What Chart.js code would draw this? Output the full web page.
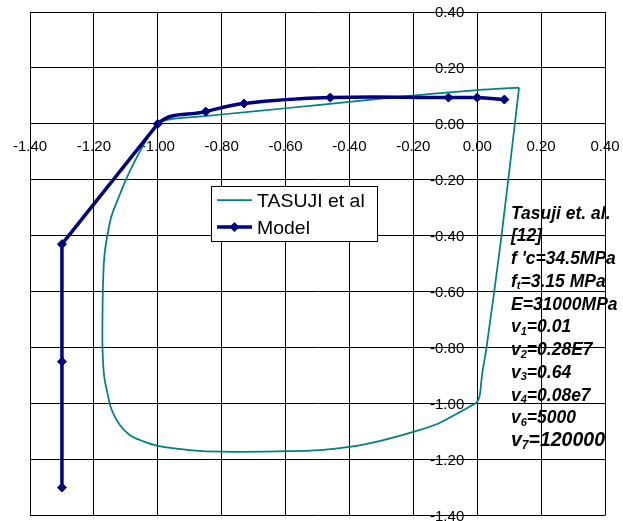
<!DOCTYPE html>
<html>
<head>
<meta charset="utf-8">
<script src="https://cdn.jsdelivr.net/npm/chart.js@4.4.0/dist/chart.umd.min.js"></script>
<style>
  html, body { margin: 0; padding: 0; background: #fff; }
  canvas { display: block; }
</style>
</head>
<body>
<canvas id="chart" width="623" height="521"></canvas>
<script>
// Tick values shared by both axes
const tickValues = [-1.4, -1.2, -1.0, -0.8, -0.6, -0.4, -0.2, 0.0, 0.2, 0.4];

// TASUJI et al. measured loop (starts and ends at the upper-right corner)
const tasujiX = [0.131, 0.000, -0.270, -0.500, -0.700, -0.870, -0.940, -0.975, -1.000,
  -1.035, -1.075, -1.100, -1.125, -1.145, -1.158, -1.167, -1.171, -1.173, -1.173,
  -1.168, -1.158, -1.145, -1.120, -1.087, -1.045, -1.000, -0.900, -0.800, -0.600,
  -0.490, -0.400, -0.300, -0.200, -0.120, -0.054, -0.015, 0.000, 0.008, 0.012,
  0.016, 0.029, 0.076, 0.131];
const tasujiY = [0.130, 0.121, 0.094, 0.067, 0.045, 0.026, 0.020, 0.013, 0.002,
  -0.056, -0.140, -0.200, -0.270, -0.330, -0.400, -0.470, -0.560, -0.680, -0.800,
  -0.900, -0.960, -1.020, -1.075, -1.113, -1.135, -1.151, -1.166, -1.172, -1.170,
  -1.166, -1.155, -1.132, -1.101, -1.070, -1.030, -1.005, -0.993, -0.970, -0.930,
  -0.890, -0.800, -0.400, 0.130];

// Model prediction
const modelX = [-1.30, -1.30, -1.30, -1.00, -0.85, -0.73, -0.46, -0.09, 0.00, 0.085];
const modelY = [-1.30, -0.85, -0.43, 0.00, 0.044, 0.073, 0.094, 0.094, 0.094, 0.087];

const seriesNames = ['TASUJI et al', 'Model'];

// Parameter note: [text, subscript, text after subscript]
const noteLines = [
  ['Tasuji et. al.'],
  ['[12]'],
  ["f 'c=34.5MPa"],
  ['f', 't', '=3.15 MPa'],
  ['E=31000MPa'],
  ['v', '1', '=0.01'],
  ['v', '2', '=0.28E7'],
  ['v', '3', '=0.64'],
  ['v', '4', '=0.08e7'],
  ['v', '6', '=5000'],
  ['v', '7', '=120000']
];

const TEAL = '#008080';
const NAVY = '#000080';
const FONT = "'Liberation Sans', Arial, Helvetica, sans-serif";
const TICK_FONT = '15px ' + FONT;

const toPoints = (xs, ys) => xs.map((x, i) => ({ x: x, y: ys[i] }));
const tasujiPts = toPoints(tasujiX, tasujiY);
const modelPts = toPoints(modelX, modelY);

const fmt = v => (Math.abs(v) < 1e-9 ? 0 : v).toFixed(2);
const noPad = s => { s.paddingLeft = 0; s.paddingRight = 0; s.paddingTop = 0; s.paddingBottom = 0; };

// Value labels of the vertical axis, set just left of the axis line at x = 0
const yAxisLabels = {
  id: 'yAxisLabels',
  afterDraw(chart) {
    const ctx = chart.ctx;
    const xs = chart.scales.x, ys = chart.scales.y;
    const axisX = xs.getPixelForValue(0);
    ctx.save();
    ctx.font = TICK_FONT;
    ctx.fillStyle = '#000';
    ctx.textAlign = 'right';
    ctx.textBaseline = 'middle';
    ys.ticks.forEach(t => {
      ctx.fillText(fmt(t.value), axisX - 13, ys.getPixelForValue(t.value) + 1);
    });
    ctx.restore();
  }
};

// Boxed legend and parameter note drawn on top of the plot
const overlay = {
  id: 'overlay',
  afterDraw(chart) {
    const ctx = chart.ctx;
    const a = chart.chartArea;
    ctx.save();

    // legend box
    const bx = a.left + 181, by = a.top + 174, bw = 166, bh = 55;
    ctx.fillStyle = '#fff';
    ctx.fillRect(bx, by, bw, bh);
    ctx.strokeStyle = '#000';
    ctx.lineWidth = 1;
    ctx.strokeRect(bx + 0.5, by + 0.5, bw, bh);

    const ds = chart.data.datasets;
    const rows = [
      { y: by + 14, color: ds[2].borderColor, width: ds[2].borderWidth, marker: false },
      { y: by + 41, color: ds[0].borderColor, width: ds[0].borderWidth, marker: true }
    ];
    rows.forEach((r, i) => {
      ctx.strokeStyle = r.color;
      ctx.lineWidth = r.width;
      ctx.beginPath();
      ctx.moveTo(bx + 6, r.y);
      ctx.lineTo(bx + 41, r.y);
      ctx.stroke();
      if (r.marker) {
        const cx = bx + 23.5, s = 5;
        ctx.fillStyle = r.color;
        ctx.beginPath();
        ctx.moveTo(cx, r.y - s); ctx.lineTo(cx + s, r.y); ctx.lineTo(cx, r.y + s); ctx.lineTo(cx - s, r.y);
        ctx.closePath();
        ctx.fill();
      }
      ctx.save();
      ctx.translate(bx + 46, r.y + 6.5);
      ctx.scale(1.1, 1);
      ctx.fillStyle = '#000';
      ctx.font = '17.7px ' + FONT;
      ctx.textBaseline = 'alphabetic';
      ctx.textAlign = 'left';
      ctx.fillText(seriesNames[i], 0, 0);
      ctx.restore();
    });

    // parameter note
    const nx = a.left + 481;
    let ny = a.top + 206.5;
    ctx.fillStyle = '#000';
    ctx.textBaseline = 'alphabetic';
    ctx.textAlign = 'left';
    noteLines.forEach((parts, i) => {
      const size = i === noteLines.length - 1 ? 19.5 : 17.5;
      const main = 'italic bold ' + size + 'px ' + FONT;
      const sub = 'italic bold ' + Math.round(size * 0.62) + 'px ' + FONT;
      let x = nx;
      ctx.font = main;
      ctx.fillText(parts[0], x, ny);
      x += ctx.measureText(parts[0]).width;
      if (parts.length > 1) {
        ctx.font = sub;
        ctx.fillText(parts[1], x, ny + 2.5);
        x += ctx.measureText(parts[1]).width;
        ctx.font = main;
        ctx.fillText(parts[2], x, ny);
      }
      ny += 22.75;
    });
    ctx.restore();
  }
};

const lineStyle = {
  showLine: true,
  borderColor: NAVY,
  backgroundColor: NAVY,
  pointBorderColor: NAVY,
  pointBackgroundColor: NAVY,
  borderWidth: 3.5,
  pointStyle: 'rectRot',
  pointBorderWidth: 1,
  pointHoverRadius: 4.5
};

new Chart(document.getElementById('chart'), {
  type: 'scatter',
  data: {
    datasets: [
      // straight drop and rise up to the knee
      Object.assign({}, lineStyle, {
        label: seriesNames[1],
        data: modelPts.slice(0, 4),
        tension: 0,
        pointRadius: 4.5,
        order: 0
      }),
      // smooth branch after the knee (first segment only steers the curve)
      Object.assign({}, lineStyle, {
        label: seriesNames[1],
        data: modelPts.slice(2),
        tension: 0.4,
        pointRadius: c => (c.dataIndex < 2 ? 0 : 4.5),
        segment: { borderColor: c => (c.p0DataIndex === 0 ? 'rgba(0,0,0,0)' : undefined) },
        order: 0
      }),
      {
        label: seriesNames[0],
        data: tasujiPts,
        showLine: true,
        borderColor: TEAL,
        backgroundColor: TEAL,
        borderWidth: 1.75,
        pointRadius: 0,
        pointHoverRadius: 0,
        tension: 0.35,
        order: 1
      }
    ]
  },
  options: {
    responsive: false,
    animation: false,
    events: [],
    layout: { padding: { left: 30, right: 18, top: 12, bottom: 4 } },
    plugins: { legend: { display: false }, tooltip: { enabled: false } },
    scales: {
      x: {
        type: 'linear',
        min: -1.4,
        max: 0.4,
        position: { y: 0 },
        afterBuildTicks: s => { s.ticks = tickValues.map(v => ({ value: v })); },
        afterFit: noPad,
        ticks: { callback: v => fmt(v), color: '#000', padding: 14, maxRotation: 0, autoSkip: false,
                 font: { family: FONT, size: 15 } },
        grid: { color: '#000', lineWidth: 1, drawTicks: false },
        border: { color: '#000', width: 1 }
      },
      y: {
        type: 'linear',
        min: -1.4,
        max: 0.4,
        position: { x: 0 },
        afterBuildTicks: s => { s.ticks = tickValues.map(v => ({ value: v })); },
        afterFit: noPad,
        ticks: { display: false },
        grid: { color: '#000', lineWidth: 1, drawTicks: false },
        border: { color: '#000', width: 1 }
      }
    }
  },
  plugins: [yAxisLabels, overlay]
});
</script>
</body>
</html>
